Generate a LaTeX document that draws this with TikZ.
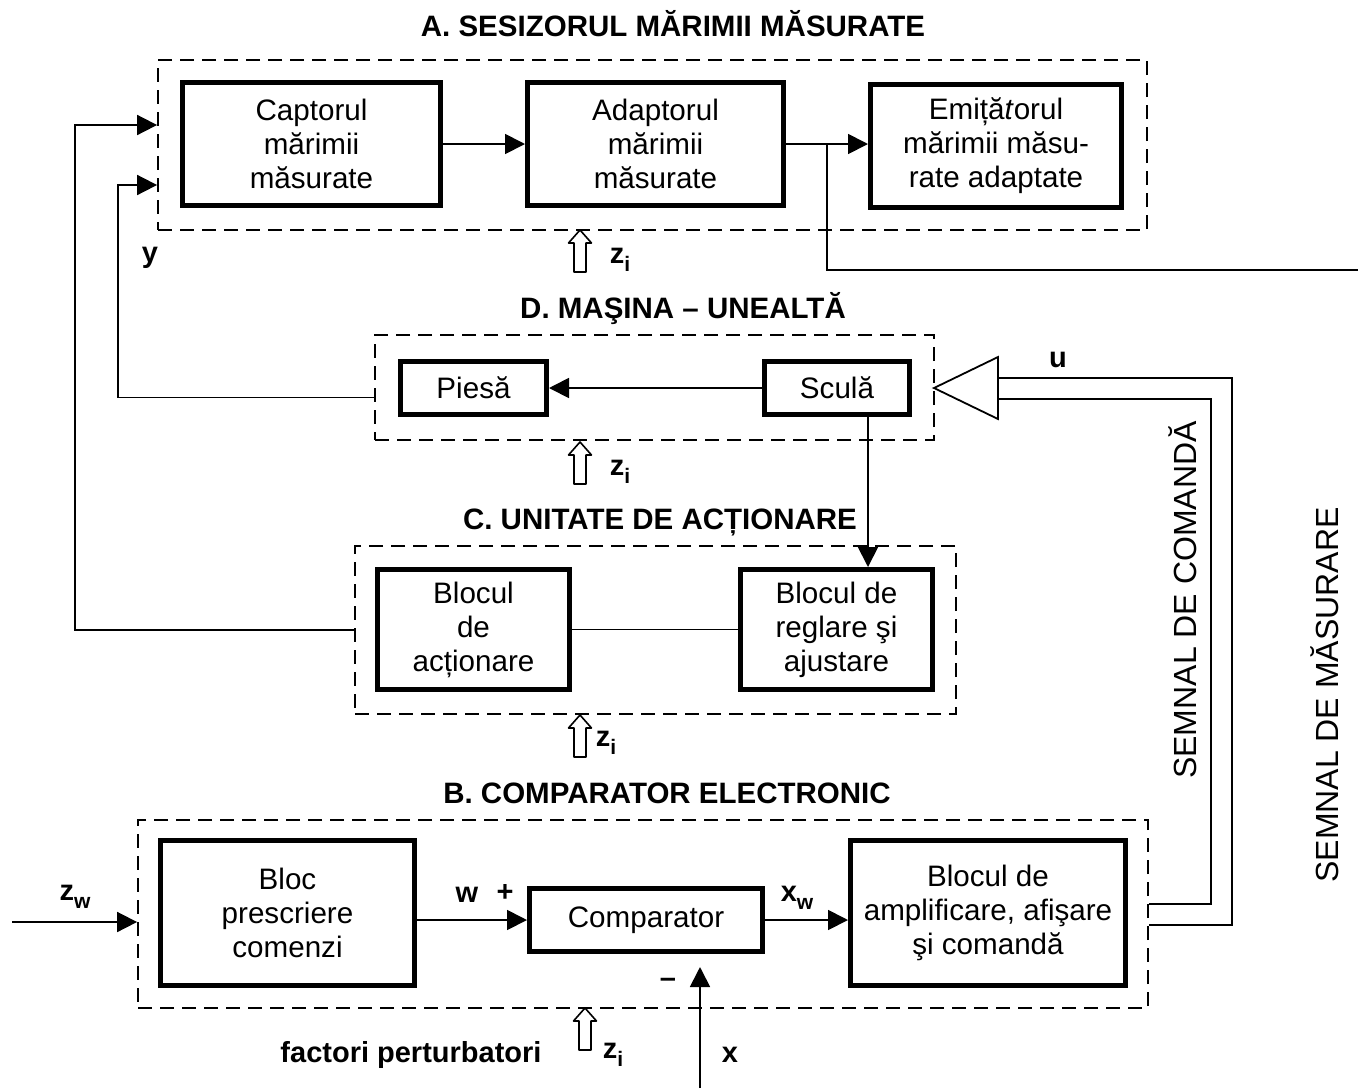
\documentclass[tikz,border=0pt]{standalone}
\usepackage{fontspec}
\setmainfont{Liberation Sans}
\usetikzlibrary{arrows.meta,calc}
\newcommand\lowsub[1]{\raisebox{-0.28em}{\fontsize{21}{21}\selectfont #1}}
\begin{document}
\begin{tikzpicture}[x=1pt,y=-1pt,
  grp/.style={draw, line width=1.8pt, dash pattern=on 14pt off 8pt, inner sep=0pt},
  blk/.style={draw, line width=5pt, align=center, font=\fontsize{29.6}{34}\selectfont, inner sep=0pt},
  ttl/.style={font=\bfseries\fontsize{29.5}{34}\selectfont, inner sep=0pt},
  lbl/.style={font=\bfseries\fontsize{29}{34}\selectfont, inner sep=0pt},
  vtxt/.style={rotate=90, font=\fontsize{32}{36}\selectfont, inner sep=0pt},
  ln/.style={line width=1.8pt},
  arr/.style={ln, -{Triangle[length=20pt,width=20pt]}},
  hollow/.pic={\draw[line width=1.6pt, fill=white, line join=round]
     (-6,0) -- (-6,-29) -- (-11.5,-29) -- (0,-42) -- (11.5,-29) -- (6,-29) -- (6,0) -- cycle;}
]
\useasboundingbox (0,0) rectangle (1358,1088);

% group frames
\node[grp, minimum width=989pt, minimum height=170pt] (gA) at (652.5,145) {};
\node[grp, minimum width=559pt, minimum height=105pt] (gD) at (654.5,387.5) {};
\node[grp, minimum width=601pt, minimum height=168pt] (gC) at (655.5,630) {};
\node[grp, minimum width=1010pt, minimum height=188pt] (gB) at (643,914) {};

% group titles
\node[ttl] (tA) at (673,24) {A. SESIZORUL MĂRIMII MĂSURATE};
\node[ttl] (tD) at (683,309) {D. MAŞINA – UNEALTĂ};
\node[ttl] (tC) at (660,522) {C. UNITATE DE ACȚIONARE};
\node[ttl] (tB) at (667,793) {B. COMPARATOR ELECTRONIC};

% A: sensing blocks
\node[blk, minimum width=258pt, minimum height=123pt] (cap) at (311.5,144) {Captorul\\mărimii\\măsurate};
\node[blk, minimum width=256pt, minimum height=123pt] (ada) at (655.5,144) {Adaptorul\\mărimii\\măsurate};
\node[blk, minimum width=251pt, minimum height=123pt] (emi) at (996,146) {Emiță\textit{t}orul\\mărimii măsu-\\rate adaptate};

% D: machine tool
\node[blk, minimum width=146pt, minimum height=53pt] (pie) at (473.5,388) {Piesă};
\node[blk, minimum width=145pt, minimum height=53pt] (scu) at (837,388) {Sculă};

% C: actuating unit
\node[blk, minimum width=192pt, minimum height=120pt] (bac) at (473.5,629.5) {Blocul\\de\\acționare};
\node[blk, minimum width=192pt, minimum height=120pt] (brg) at (836.5,629.5) {Blocul de\\reglare şi\\ajustare};

% B: electronic comparator
\node[blk, minimum width=254pt, minimum height=145pt] (bpc) at (287.5,913) {Bloc\\prescriere\\comenzi};
\node[blk, minimum width=233pt, minimum height=63pt] (cmp) at (646,920) {Comparator};
\node[blk, minimum width=275pt, minimum height=145pt] (bam) at (988,913) {Blocul de\\amplificare, afişare\\şi comandă};

% helper points
\coordinate (inA1) at ($(gA.west)+(0,-20)$);
\coordinate (inA2) at ($(gA.west)+(0,40)$);
\coordinate (outD) at ($(gD.west)+(0,10)$);
\coordinate (br) at ($(ada.east)!0.5!(emi.west)$);
\coordinate (mout) at (1358,270);
\coordinate (zw0) at (12,922);
\coordinate (x0) at (700,1088);
\coordinate (xtip) at (700,967);
\coordinate (ampT) at (934,388);

% A chain
\draw[arr] (cap) -- (ada);
\draw[arr] (ada) -- (ada -| emi.west);
\draw[ln] (br) |- (mout);

% feedback lines on the left
\draw[arr] (gC.west) -| (75,125) -- (inA1);
\draw[arr] (outD) -| (118,185) -- (inA2);
\node[lbl] (ly) at (150,258) {y};

% D internals
\draw[arr] (scu) -- (pie);
\draw[arr] ($(scu.south)+(31,0)$) -- ($(brg.north)+(31.5,0)$);

% C internal link
\draw[ln] (bac) -- (brg);

% amplifier and command signal pair
\draw[ln, line join=miter] (ampT) -- (998,357) -- (998,419) -- cycle;
\draw[ln] (998,378) -| (1232,925) -- (gB.east |- 0,925);
\draw[ln] (998,399) -| (1211,904) -- (gB.east |- 0,904);
\node[lbl] (lu) at (1058,360) {u};

% B chain
\draw[arr] (zw0) -- (gB.west |- zw0);
\draw[arr] (bpc.east |- cmp) -- (cmp.west);
\draw[arr] (cmp.east) -- (bam.west |- cmp);
\draw[arr] (x0) -- (xtip);

\node[lbl] (lzw) at (75,897) {z\lowsub{w}};
\node[lbl] (lw) at (467,895) {w};
\node[lbl] (lp) at (505,893) {+};
\node[lbl] (lxw) at (797,898) {x\lowsub{w}};
\node[lbl] (lm) at (668,983) {–};
\node[lbl] (lx) at (730,1055) {x};
\node[lbl] (lf) at (411,1055) {factori perturbatori};

% disturbance inputs
\pic at (580,272) {hollow};
\pic at (580,484) {hollow};
\pic at (580,757) {hollow};
\pic at (585,1050) {hollow};
\node[lbl] (z1) at (620,260) {z\lowsub{i}};
\node[lbl] (z2) at (620,472) {z\lowsub{i}};
\node[lbl] (z3) at (606,743) {z\lowsub{i}};
\node[lbl] (z4) at (613,1055) {z\lowsub{i}};

% vertical signal names
\node[vtxt] (sc) at (1183,600) {SEMNAL DE COMANDĂ};
\node[vtxt] (sm) at (1325,695) {SEMNAL DE MĂSURARE};
\end{tikzpicture}
\end{document}
